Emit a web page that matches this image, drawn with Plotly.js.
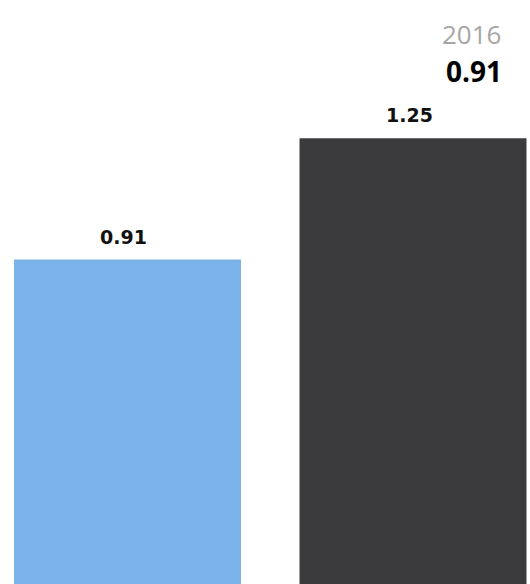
<!DOCTYPE html>
<html>
<head>
<meta charset="utf-8">
<script src="https://cdn.plot.ly/plotly-3.0.1.min.js"></script>
<style>
html,body{margin:0;padding:0;background:#fff;}
#chart{width:530px;height:584px;}
</style>
</head>
<body>
<div id="chart"></div>
<script>
var categories = ['2016', 'Comparison'];
var values = [0.91, 1.25];
var barColors = ['#79b3ea', '#3b3b3d'];
var headerYear = '2016';
var headerValue = 0.91;

var trace = {
  type: 'bar',
  x: categories,
  y: values,
  width: 0.795,
  marker: {color: barColors, line: {width: 0}},
  hoverinfo: 'skip'
};

var annotations = values.map(function (v, i) {
  return {
    x: i, y: v, xref: 'x', yref: 'y',
    text: '<b>' + v.toFixed(2) + '</b>', showarrow: false,
    xanchor: 'center', yanchor: 'bottom', yshift: 10, xshift: -4,
    font: {family: 'DejaVu Sans', size: 19, color: '#111111'}
  };
});
annotations.push({
  x: 503 / 530, y: 1 - 34 / 584, xref: 'paper', yref: 'paper',
  text: headerYear, showarrow: false, xanchor: 'right', yanchor: 'middle',
  font: {family: 'Open Sans', size: 26, color: '#a6a6a6'}
});
annotations.push({
  x: 504 / 530, y: 1 - 71 / 584, xref: 'paper', yref: 'paper',
  text: '<b>' + headerValue.toFixed(2) + '</b>', showarrow: false, xanchor: 'right', yanchor: 'middle',
  font: {family: 'Open Sans', size: 28, color: '#000000'}
});

var layout = {
  width: 530, height: 584,
  margin: {l: 0, r: 0, t: 0, b: 0},
  paper_bgcolor: '#ffffff', plot_bgcolor: '#ffffff',
  showlegend: false,
  xaxis: {type: 'category', range: [-0.4466, 1.4098], visible: false, fixedrange: true},
  yaxis: {range: [0, 1.638], visible: false, fixedrange: true},
  annotations: annotations
};

Plotly.newPlot('chart', [trace], layout, {displayModeBar: false, staticPlot: true});
</script>
</body>
</html>
